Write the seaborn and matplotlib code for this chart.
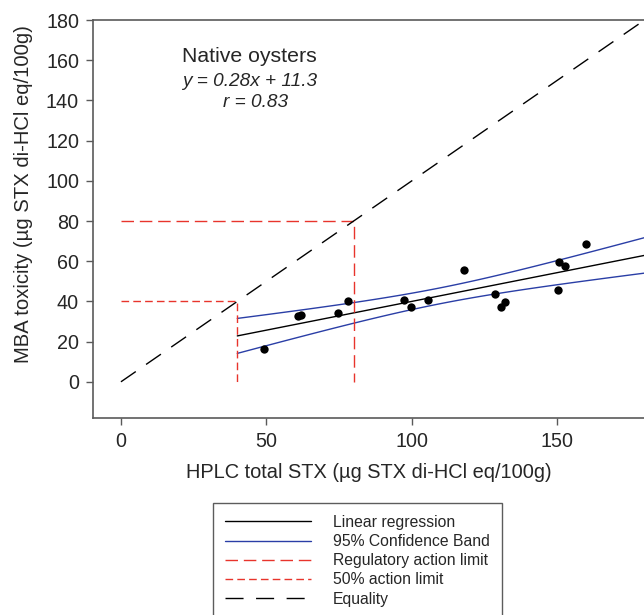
# Native oysters: MBA toxicity vs HPLC total STX
import numpy as np
import pandas as pd
import matplotlib
matplotlib.use("Agg")
import matplotlib.pyplot as plt
import seaborn as sns
from matplotlib.lines import Line2D

# Data
hplc = [49.2, 60.9, 61.9, 74.5, 78.0, 97.3, 99.8, 105.6, 117.9,
        128.6, 130.8, 132.1, 150.3, 150.6, 152.6, 159.9]
mba = [16.3, 32.8, 33.3, 34.2, 40.3, 40.6, 37.0, 40.8, 55.5,
       43.6, 37.3, 39.9, 45.9, 59.5, 57.5, 68.6]
fit_range = [40, 180]
action_limit = 80
half_limit = 40
equality = [0, 180]
legend_labels = ["Linear regression", "95% Confidence Band",
                 "Regulatory action limit", "50% action limit", "Equality"]

df = pd.DataFrame({"hplc": hplc, "mba": mba})

sns.set_style("ticks")
plt.rcParams["font.family"] = ["Liberation Sans", "DejaVu Sans"]

red = "#e8342c"
blue = "#2a3ea6"
gray = "#5a5a5a"

fig = plt.figure(figsize=(6.44, 6.15), dpi=100)
ax = fig.add_axes([93 / 644, 1 - 418 / 615, 1 - 93 / 644, 398 / 615])

# regression line + 95% confidence band (ordinary least squares)
x = np.array(hplc)
y = np.array(mba)
n = len(x)
slope, intercept = np.polyfit(x, y, 1)
resid = y - (slope * x + intercept)
s = np.sqrt(np.sum(resid ** 2) / (n - 2))
sxx = np.sum((x - x.mean()) ** 2)
xs = np.linspace(fit_range[0], fit_range[1], 100)
yfit = slope * xs + intercept
half = 2.145 * s * np.sqrt(1 / n + (xs - x.mean()) ** 2 / sxx)

ax.plot(xs, yfit, color="black", lw=1)
ax.plot(xs, yfit + half, color=blue, lw=1)
ax.plot(xs, yfit - half, color=blue, lw=1)

# action limits
ax.plot([0, action_limit, action_limit], [action_limit, action_limit, 0],
        color=red, lw=1, dashes=(9, 4.2))
ax.plot([0, half_limit, half_limit], [half_limit, half_limit, 0],
        color=red, lw=1, dashes=(5.5, 3))
# equality line
ax.plot(equality, equality, color="black", lw=1, dashes=(13, 9))

sns.scatterplot(data=df, x="hplc", y="mba", color="black", s=36,
                edgecolor="black", linewidth=0, ax=ax, zorder=5)

ax.set_xlim(-9.6, 179.8)
ax.set_ylim(-18, 180)
ax.set_xticks([0, 50, 100, 150])
ax.set_yticks(range(0, 181, 20))
ax.tick_params(labelsize=14.2, length=5, width=1, color=gray, pad=5)
for side in ["left", "bottom", "top"]:
    ax.spines[side].set_color(gray)
    ax.spines[side].set_linewidth(1.2)
ax.spines["right"].set_visible(False)

ax.set_xlabel("HPLC total STX (µg STX di-HCl eq/100g)", fontsize=14.4, labelpad=9)
ax.set_ylabel("MBA toxicity (µg STX di-HCl eq/100g)", fontsize=14.6)
ax.yaxis.set_label_coords(-0.108, 0.563)

ax.text(44.3, 162, "Native oysters", fontsize=15.3, ha="center", va="center")
ax.text(44.3, 149.3, "y = 0.28x + 11.3", fontsize=13.7, style="italic",
        ha="center", va="center")
ax.text(46.4, 138.9, "r = 0.83", fontsize=13.7, style="italic",
        ha="center", va="center")

handles = [
    Line2D([], [], color="black", lw=1),
    Line2D([], [], color=blue, lw=1),
    Line2D([], [], color=red, lw=1, dashes=(9, 4.2)),
    Line2D([], [], color=red, lw=1, dashes=(5.5, 3)),
    Line2D([], [], color="black", lw=1, dashes=(13, 9)),
]
leg = fig.legend(handles, legend_labels, loc="upper left",
                 bbox_to_anchor=(213 / 644, 1 - 503 / 615),
                 fontsize=11.3, frameon=True, fancybox=False,
                 handlelength=5.5, handletextpad=1.4, labelspacing=0.27,
                 borderpad=0.75, borderaxespad=0)
leg.get_frame().set_edgecolor("#333333")
leg.get_frame().set_linewidth(1)

fig.savefig("out.png", dpi=100)
